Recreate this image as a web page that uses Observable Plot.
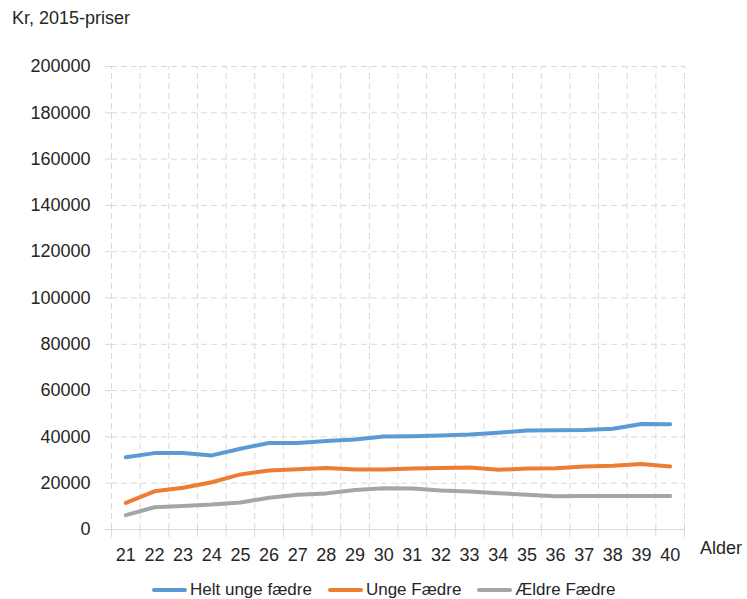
<!DOCTYPE html>
<html>
<head>
<meta charset="utf-8">
<script src="https://cdn.jsdelivr.net/npm/d3@7"></script>
<script src="https://cdn.jsdelivr.net/npm/@observablehq/plot@0.6"></script>
<style>
  html, body { margin: 0; padding: 0; background: #fff; }
  #wrap { position: relative; width: 747px; height: 599px; font-family: "Liberation Sans", Arial, sans-serif; color: #262626; }
  #title { position: absolute; left: 12px; top: 8px; font-size: 18px; }
  #alder { position: absolute; left: 700px; top: 538px; font-size: 18px; }
  #legend { position: absolute; left: 152px; top: 580px; font-size: 17px; display: flex; align-items: center; white-space: nowrap; }
  .item { display: flex; align-items: center; margin-right: 16px; }
  .sw { width: 35px; height: 4px; border-radius: 2px; margin-right: 3px; }
</style>
</head>
<body>
<div id="wrap">
  <div id="chart"></div>
  <div id="title">Kr, 2015-priser</div>
  <div id="alder">Alder</div>
  <div id="legend"></div>
</div>
<script>
const ages = [21,22,23,24,25,26,27,28,29,30,31,32,33,34,35,36,37,38,39,40];
const heltUnge = [31200,33000,33000,32000,34900,37400,37400,38200,38900,40200,40300,40600,41000,41800,42800,42900,43000,43500,45600,45500];
const ungeFaedre = [11500,16500,18000,20400,23800,25500,26000,26600,25900,25900,26400,26600,26800,25800,26300,26500,27200,27500,28300,27200];
const aeldreFaedre = [6200,9600,10200,10800,11700,13700,15000,15600,17100,17800,17700,16800,16400,15700,15000,14400,14500,14500,14500,14500];
const seriesNames = ["Helt unge fædre", "Unge Fædre", "Ældre Fædre"];
const seriesColors = ["#5B9BD5", "#ED7D31", "#A5A5A5"];
const yTicks = [0,20000,40000,60000,80000,100000,120000,140000,160000,180000,200000];

const seriesValues = [heltUnge, ungeFaedre, aeldreFaedre];
const rows = [];
seriesNames.forEach((s, i) => ages.forEach((a, j) => rows.push({age: a, value: seriesValues[i][j], series: s})));
const bounds = [...ages.map(a => a - 0.5), ages[ages.length - 1] + 0.5];
const gridY = yTicks.slice(1);
const yMax = yTicks[yTicks.length - 1];

const plot = Plot.plot({
  width: 747,
  height: 599,
  marginLeft: 111,
  marginRight: 63,
  marginTop: 66,
  marginBottom: 70,
  style: {fontFamily: "Liberation Sans, Arial, sans-serif", fontSize: "18px", color: "#262626", background: "#fff"},
  x: {type: "linear", domain: [bounds[0], bounds[bounds.length - 1]]},
  y: {type: "linear", domain: [0, yMax]},
  color: {domain: seriesNames, range: seriesColors},
  marks: [
    Plot.ruleY(gridY, {y: d => d, stroke: "#d9d9d9", strokeWidth: 1, strokeDasharray: "6,4"}),
    Plot.ruleX(bounds, {x: d => d, y1: 0, y2: yMax, stroke: "#d9d9d9", strokeWidth: 1, strokeDasharray: "6,4"}),
    Plot.ruleY([0], {stroke: "#d9d9d9", strokeWidth: 1}),
    Plot.axisY({ticks: yTicks, tickFormat: d => String(d), tickSize: 6, tickPadding: 15, stroke: "#d9d9d9", fill: "#262626", label: null}),
    Plot.axisX({ticks: ages, tickFormat: d => String(d), tickSize: 0, tickPadding: 19, fill: "#262626", label: null}),
    Plot.axisX({ticks: bounds, tickFormat: () => "", tickSize: 8, stroke: "#d9d9d9", label: null}),
    Plot.line(rows, {x: "age", y: "value", z: "series", stroke: "series", strokeWidth: 4, strokeLinejoin: "round", strokeLinecap: "round", curve: "linear"})
  ]
});
document.getElementById("chart").appendChild(plot);

const legend = document.getElementById("legend");
seriesNames.forEach((s, i) => {
  const item = document.createElement("div");
  item.className = "item";
  const sw = document.createElement("div");
  sw.className = "sw";
  sw.style.background = seriesColors[i];
  const label = document.createElement("span");
  label.textContent = s;
  item.appendChild(sw);
  item.appendChild(label);
  legend.appendChild(item);
});
</script>
</body>
</html>
